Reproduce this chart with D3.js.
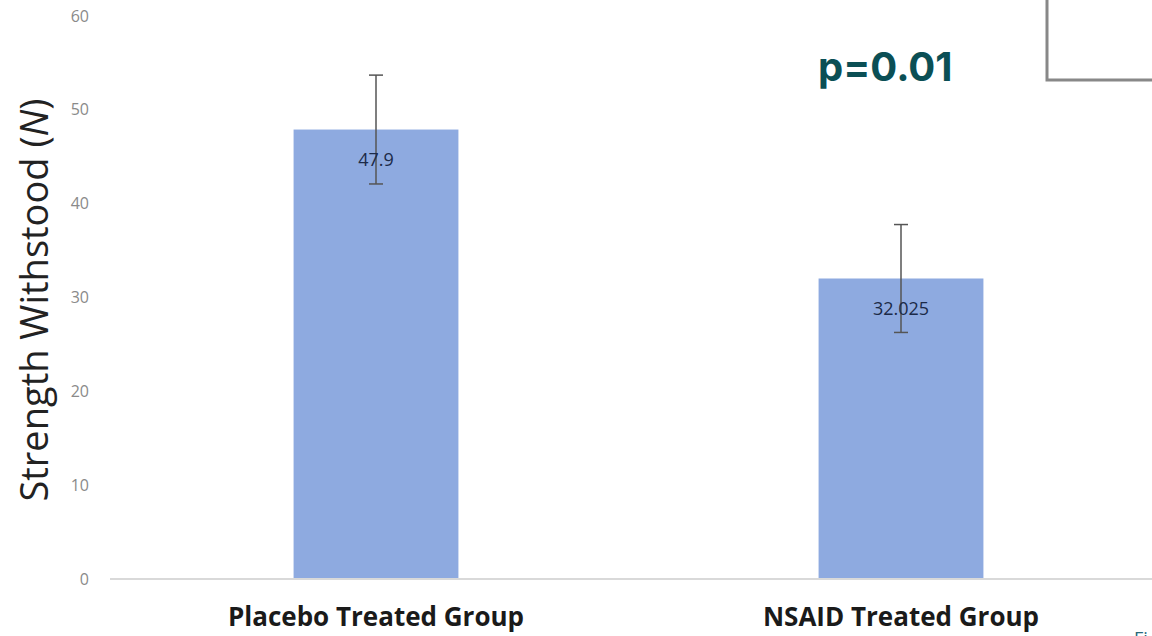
<!DOCTYPE html>
<html>
<head>
<meta charset="utf-8">
<script src="https://cdn.jsdelivr.net/npm/d3@7"></script>
<style>
  body { margin: 0; background: #fff; }
  svg { display: block; }
</style>
</head>
<body>
<svg width="1152" height="636"></svg>
<script>
// данные диаграммы
const groups = ["Placebo Treated Group", "NSAID Treated Group"];
const means = [47.9, 32.025];
const errors = [5.8, 5.75];
const meanLabels = ["47.9", "32.025"];
const yTicks = [0, 10, 20, 30, 40, 50, 60];

const svg = d3.select("svg");
const width = +svg.attr("width");
const height = +svg.attr("height");

const y = d3.scaleLinear().domain([0, 60]).range([579, 16]);
const x = d3.scaleBand()
    .domain(groups)
    .range([113.5, 1163.5])
    .paddingInner(0.686)
    .paddingOuter(0.343);

// подписи оси y
svg.append("g")
    .selectAll("text")
    .data(yTicks)
    .join("text")
    .attr("x", 89)
    .attr("y", d => y(d))
    .attr("dy", "0.35em")
    .attr("text-anchor", "end")
    .attr("font-family", "Open Sans, sans-serif")
    .attr("font-size", 16)
    .attr("fill", "#8a8a8a")
    .text(d => d);

// столбцы
svg.append("g")
    .selectAll("rect")
    .data(means)
    .join("rect")
    .attr("x", (d, i) => x(groups[i]))
    .attr("y", d => y(d))
    .attr("width", x.bandwidth())
    .attr("height", d => y(0) - y(d))
    .attr("fill", "#8eaae0");

// базовая линия
svg.append("line")
    .attr("x1", 110).attr("x2", width)
    .attr("y1", y(0)).attr("y2", y(0))
    .attr("stroke", "#d9d9d9")
    .attr("stroke-width", 2);

// планки погрешностей
const eb = svg.append("g").attr("stroke", "#555").attr("stroke-width", 1.5);
means.forEach((m, i) => {
    const cx = x(groups[i]) + x.bandwidth() / 2;
    eb.append("line").attr("x1", cx).attr("x2", cx)
        .attr("y1", y(m + errors[i])).attr("y2", y(m - errors[i]));
    [m + errors[i], m - errors[i]].forEach(v => {
        eb.append("line").attr("x1", cx - 7).attr("x2", cx + 7)
            .attr("y1", y(v)).attr("y2", y(v));
    });
});

// подписи значений
svg.append("g")
    .selectAll("text")
    .data(means)
    .join("text")
    .attr("x", (d, i) => x(groups[i]) + x.bandwidth() / 2)
    .attr("y", d => y(d) + 30)
    .attr("dy", "0.35em")
    .attr("text-anchor", "middle")
    .attr("font-family", "Open Sans, sans-serif")
    .attr("font-size", 18)
    .attr("fill", "#1c2a48")
    .text((d, i) => meanLabels[i]);

// подписи категорий
svg.append("g")
    .selectAll("text")
    .data(groups)
    .join("text")
    .attr("x", d => x(d) + x.bandwidth() / 2)
    .attr("y", 626)
    .attr("text-anchor", "middle")
    .attr("font-family", "Open Sans, sans-serif")
    .attr("font-weight", "bold")
    .attr("font-size", 26)
    .attr("fill", "#1a1a1a")
    .text(d => d);

// заголовок оси y
const yt = svg.append("text")
    .attr("transform", "translate(48,300) rotate(-90)")
    .attr("text-anchor", "middle")
    .attr("font-family", "Open Sans, sans-serif")
    .attr("font-size", 38)
    .attr("fill", "#222");
yt.append("tspan").text("Strength Withstood (");
yt.append("tspan").attr("font-style", "italic").text("N");
yt.append("tspan").text(")");

// p-значение
svg.append("text")
    .attr("x", 818)
    .attr("y", 81)
    .attr("font-family", "Inter, sans-serif")
    .attr("font-weight", "bold")
    .attr("font-size", 40)
    .attr("fill", "#0b4f55")
    .text("p=0.01");

// рамка справа сверху
svg.append("path")
    .attr("d", `M1047,0 V80 H${width}`)
    .attr("fill", "none")
    .attr("stroke", "#888")
    .attr("stroke-width", 3);

// обрезанный текст внизу справа
svg.append("text")
    .attr("x", 1134)
    .attr("y", 645)
    .attr("font-family", "Open Sans, sans-serif")
    .attr("font-size", 18)
    .attr("fill", "#2a6a7a")
    .text("Fi");
</script>
</body>
</html>
